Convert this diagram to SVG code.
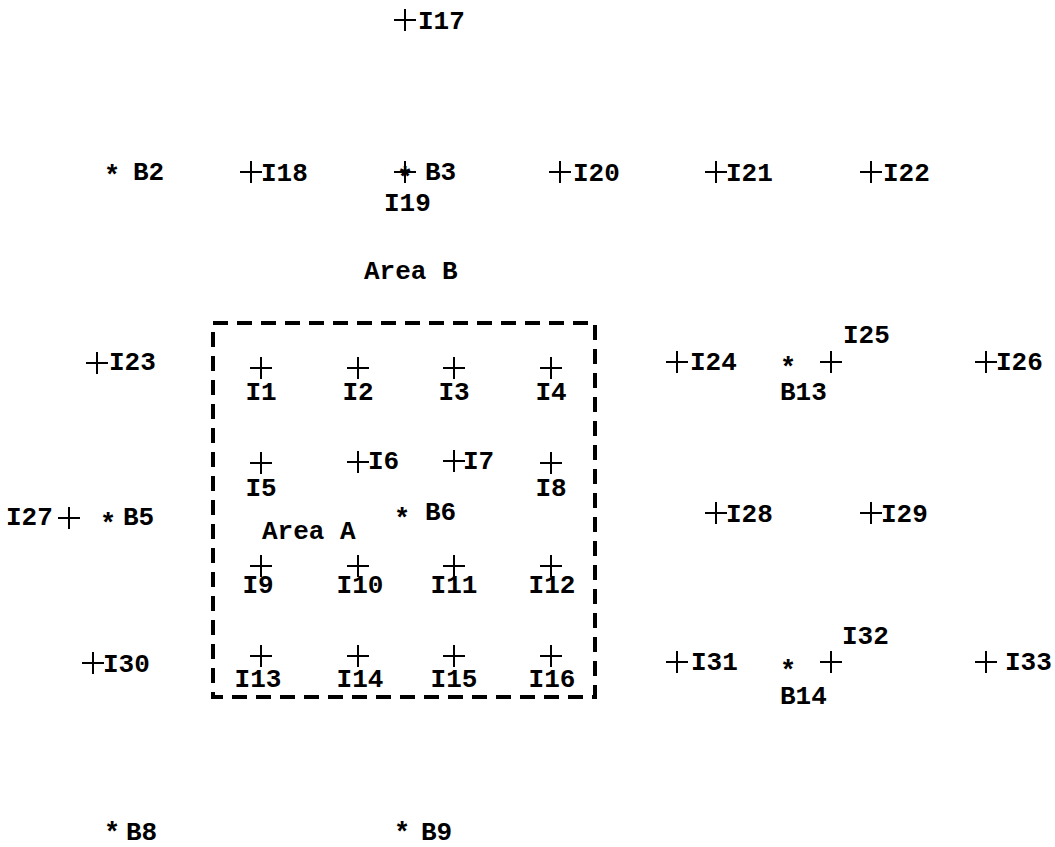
<svg xmlns="http://www.w3.org/2000/svg" width="1055" height="847" viewBox="0 0 1055 847">
<style>
text{font-family:"Liberation Mono","Courier New",monospace;font-weight:bold;font-size:26px;fill:#000}
.m{text-anchor:middle}
.st{font-size:27px;text-anchor:middle}
.x{stroke:#000;stroke-width:2;fill:none}
.box{fill:none;stroke:#000;stroke-width:4;stroke-dasharray:15 9}
</style>
<defs>
<path id="c" class="x" d="M-11 0H11M0 -11V11"/>
</defs>
<rect width="1055" height="847" fill="#fff"/>
<g id="areaA-box"><rect class="box" x="213" y="323" width="382" height="374"/></g>
<g id="connectors"/>
<g id="I17"><use href="#c" x="405" y="20"/><text x="418" y="29">I17</text></g>
<g id="B2"><text class="st" x="112" y="184">*</text><text x="133" y="180">B2</text></g>
<g id="I18"><use href="#c" x="251" y="172"/><text x="261" y="181">I18</text></g>
<g id="B3"><text class="st" x="405" y="186">*</text><text x="425" y="180">B3</text></g>
<g id="I19"><use href="#c" x="405" y="172"/><text x="384" y="211">I19</text></g>
<g id="I20"><use href="#c" x="560" y="172"/><text x="573" y="181">I20</text></g>
<g id="I21"><use href="#c" x="716" y="172"/><text x="726" y="181">I21</text></g>
<g id="I22"><use href="#c" x="871" y="172"/><text x="883" y="181">I22</text></g>
<g id="areaB-label"><text x="364" y="279">Area B</text></g>
<g id="I23"><use href="#c" x="97" y="363"/><text x="109" y="370">I23</text></g>
<g id="I1"><use href="#c" x="261" y="368"/><text class="m" x="261" y="400">I1</text></g>
<g id="I2"><use href="#c" x="358" y="368"/><text class="m" x="358" y="400">I2</text></g>
<g id="I3"><use href="#c" x="454" y="368"/><text class="m" x="454" y="400">I3</text></g>
<g id="I4"><use href="#c" x="551" y="368"/><text class="m" x="551" y="400">I4</text></g>
<g id="I5"><use href="#c" x="261" y="463"/><text class="m" x="261" y="496">I5</text></g>
<g id="I6"><use href="#c" x="358" y="462"/><text x="368" y="469">I6</text></g>
<g id="I7"><use href="#c" x="454" y="461"/><text x="463" y="469">I7</text></g>
<g id="I8"><use href="#c" x="551" y="463"/><text class="m" x="551" y="496">I8</text></g>
<g id="I27"><text x="6" y="525">I27</text><use href="#c" x="69" y="518"/></g>
<g id="B5"><text class="st" x="108" y="532">*</text><text x="123" y="525">B5</text></g>
<g id="B6"><text class="st" x="402" y="527">*</text><text x="425" y="520">B6</text></g>
<g id="areaA-label"><text x="262" y="539">Area A</text></g>
<g id="I9"><use href="#c" x="261" y="566"/><text class="m" x="258" y="593">I9</text></g>
<g id="I10"><use href="#c" x="358" y="566"/><text class="m" x="360" y="593">I10</text></g>
<g id="I11"><use href="#c" x="454" y="566"/><text class="m" x="454" y="593">I11</text></g>
<g id="I12"><use href="#c" x="551" y="566"/><text class="m" x="552" y="593">I12</text></g>
<g id="I13"><use href="#c" x="261" y="656"/><text class="m" x="258" y="687">I13</text></g>
<g id="I14"><use href="#c" x="358" y="656"/><text class="m" x="360" y="687">I14</text></g>
<g id="I15"><use href="#c" x="454" y="656"/><text class="m" x="454" y="687">I15</text></g>
<g id="I16"><use href="#c" x="551" y="656"/><text class="m" x="552" y="687">I16</text></g>
<g id="I24"><use href="#c" x="677" y="362"/><text x="690" y="370">I24</text></g>
<g id="B13"><text class="st" x="788" y="376">*</text><text x="780" y="400">B13</text></g>
<g id="I25"><use href="#c" x="831" y="362"/><text x="843" y="343">I25</text></g>
<g id="I26"><use href="#c" x="986" y="362"/><text x="996" y="370">I26</text></g>
<g id="I28"><use href="#c" x="716" y="513"/><text x="726" y="522">I28</text></g>
<g id="I29"><use href="#c" x="871" y="513"/><text x="881" y="522">I29</text></g>
<g id="I30"><use href="#c" x="93" y="663"/><text x="103" y="672">I30</text></g>
<g id="I31"><use href="#c" x="677" y="662"/><text x="691" y="670">I31</text></g>
<g id="B14"><text class="st" x="788" y="679">*</text><text x="780" y="704">B14</text></g>
<g id="I32"><use href="#c" x="831" y="662"/><text x="842" y="644">I32</text></g>
<g id="I33"><use href="#c" x="986" y="662"/><text x="1005" y="670">I33</text></g>
<g id="B8"><text class="st" x="112" y="841">*</text><text x="126" y="840">B8</text></g>
<g id="B9"><text class="st" x="402" y="841">*</text><text x="421" y="840">B9</text></g>
</svg>
